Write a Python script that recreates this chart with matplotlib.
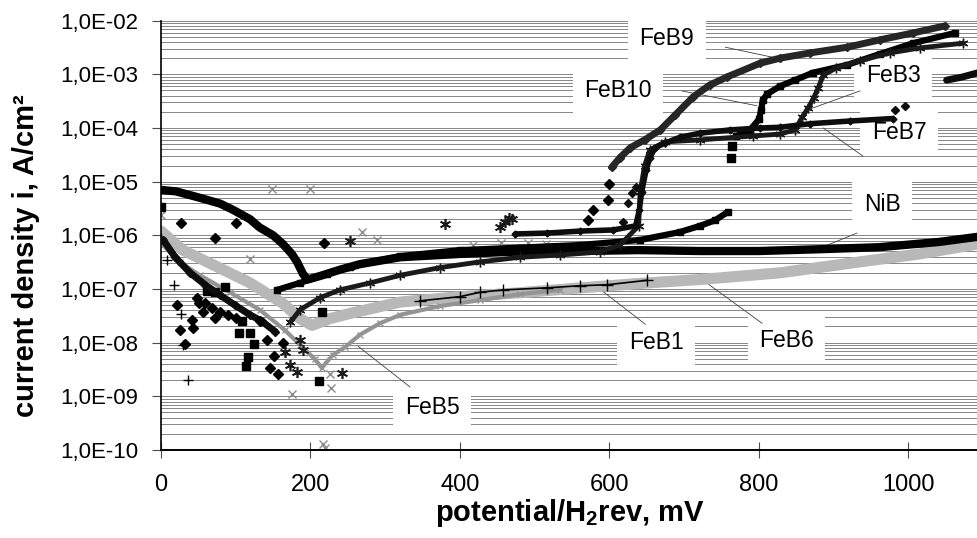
import math

import matplotlib
matplotlib.use("Agg")
import matplotlib.pyplot as plt
from matplotlib.ticker import FixedLocator, FuncFormatter, LogLocator, NullFormatter

plt.rcParams["font.family"] = ["Liberation Sans", "DejaVu Sans"]
plt.rcParams["mathtext.fontset"] = "custom"
plt.rcParams["mathtext.rm"] = "Liberation Sans"
plt.rcParams["mathtext.bf"] = "Liberation Sans:bold"

# potential in mV vs H2rev, current density in A/cm2
nib_e = [0, 20, 52, 79, 96, 119, 132, 150, 163, 175, 182, 190, 196, 213, 240, 266, 320,
         400, 480, 560, 640, 720, 800, 880, 960, 1040, 1093]
nib_i = [7.0e-6, 6.6e-6, 5.0e-6, 3.9e-6, 3.0e-6, 2.0e-6, 1.4e-6, 1.0e-6, 6.9e-7, 4.5e-7,
         3.2e-7, 1.9e-7, 1.5e-7, 1.75e-7, 2.3e-7, 2.9e-7, 3.9e-7, 4.5e-7, 5.0e-7, 5.1e-7,
         5.3e-7, 5.1e-7, 5.1e-7, 5.5e-7, 6.0e-7, 7.5e-7, 9.4e-7]

feb10_e = [155, 186, 222, 253, 320, 400, 480, 561, 641, 694, 721, 741, 758]
feb10_i = [9.6e-8, 1.3e-7, 1.9e-7, 2.6e-7, 4.1e-7, 5.3e-7, 5.9e-7, 6.6e-7, 8.2e-7, 1.15e-6,
           1.5e-6, 1.9e-6, 2.7e-6]
feb10_hi_e = [769, 788, 800, 803, 805, 811, 828, 848, 872, 918, 962, 1006, 1062]
feb10_hi_i = [7.0e-5, 9.2e-5, 1.45e-4, 2.2e-4, 3.3e-4, 4.3e-4, 6.0e-4, 7.8e-4, 1.07e-3,
              1.5e-3, 2.4e-3, 3.8e-3, 5.9e-3]
feb10_pts_e = [0, 62, 72, 86, 104, 108, 116, 114, 119, 124, 211, 215, 763, 764]
feb10_pts_i = [3.4e-6, 9.0e-8, 8.7e-8, 1.1e-7, 1.5e-8, 2.5e-8, 5.5e-9, 3.6e-9, 1.5e-8,
               9.6e-9, 1.9e-9, 3.8e-8, 2.8e-5, 4.7e-5]

feb9_e = [603, 614, 628, 647, 668, 688, 712, 734, 757, 801, 828, 868, 918, 962, 1006, 1049]
feb9_i = [1.85e-5, 2.8e-5, 4.3e-5, 6.0e-5, 9.2e-5, 1.75e-4, 3.8e-4, 6.3e-4, 8.9e-4, 1.6e-3,
          2.0e-3, 2.5e-3, 3.2e-3, 4.4e-3, 5.9e-3, 8.0e-3]
feb9_pts_e = [27, 72, 100, 218, 21, 25, 32, 41, 43, 51, 48, 59, 68, 79, 90, 100, 56, 72,
              142, 163, 151, 146, 157, 132, 571, 578, 598, 600]
feb9_pts_i = [1.7e-6, 9.0e-7, 1.7e-6, 7.2e-7, 5.0e-8, 1.7e-8, 9.6e-9, 2.6e-8, 1.9e-8,
              5.5e-8, 6.9e-8, 5.5e-8, 4.5e-8, 3.8e-8, 3.3e-8, 2.9e-8, 3.8e-8, 2.9e-8,
              1.1e-8, 1.0e-8, 5.6e-9, 3.3e-9, 2.6e-9, 2.5e-8, 1.9e-6, 3.0e-6, 4.6e-6, 9.0e-6]

feb7_lo_e = [3, 19, 39, 59, 79, 99, 119, 135, 153]
feb7_lo_i = [8.2e-7, 3.9e-7, 2.0e-7, 1.2e-7, 7.7e-8, 5.0e-8, 3.3e-8, 2.5e-8, 1.6e-8]
feb7_e = [474, 516, 561, 605, 635, 640, 643, 649, 654, 661, 674, 694, 721, 761, 801, 828,
          868, 922, 979]
feb7_i = [1.06e-6, 1.1e-6, 1.2e-6, 1.26e-6, 1.5e-6, 3.0e-6, 6.4e-6, 1.65e-5, 2.8e-5, 4.3e-5,
          5.2e-5, 6.7e-5, 8.0e-5, 9.2e-5, 1.0e-4, 1.03e-4, 1.2e-4, 1.35e-4, 1.5e-4]
feb7_hi_e = [1051, 1072, 1093]
feb7_hi_i = [7.8e-4, 8.9e-4, 1.07e-3]
feb7_pts_e = [618, 625, 630, 635, 982, 995]
feb7_pts_i = [1.8e-6, 4.0e-6, 6.2e-6, 8.0e-6, 2.2e-4, 2.6e-4]

feb3_e = [173, 186, 213, 239, 280, 320, 373, 427, 480, 534, 587, 614, 639, 641, 647, 654,
          674, 721, 792, 828, 848, 858, 866, 873, 879, 886, 903, 935, 975, 1015, 1073]
feb3_i = [2.4e-8, 4.1e-8, 6.9e-8, 9.6e-8, 1.3e-7, 1.8e-7, 2.5e-7, 3.2e-7, 3.9e-7, 4.3e-7,
          4.9e-7, 6.6e-7, 1.5e-6, 6.4e-6, 2.0e-5, 3.9e-5, 5.5e-5, 6.0e-5, 7.1e-5, 7.7e-5,
          9.2e-5, 1.6e-4, 2.4e-4, 3.6e-4, 5.5e-4, 9.7e-4, 1.3e-3, 1.8e-3, 2.5e-3, 3.1e-3,
          3.8e-3]
feb3_pts_e = [182, 242, 253, 190, 186, 166, 173, 460, 466, 454, 380, 470]
feb3_pts_i = [2.8e-9, 2.7e-9, 7.9e-7, 7.3e-9, 1.1e-8, 6.6e-9, 3.8e-9, 1.8e-6, 2.1e-6,
              1.4e-6, 1.6e-6, 2.0e-6]

feb1_lo_e = [0, 8, 17, 27, 29, 36]
feb1_lo_i = [9.0e-7, 3.5e-7, 1.2e-7, 3.4e-8, 9.1e-9, 2.0e-9]
feb1_e = [346, 400, 427, 458, 516, 561, 597, 650]
feb1_i = [6.0e-8, 7.2e-8, 8.7e-8, 9.6e-8, 1.05e-7, 1.15e-7, 1.2e-7, 1.45e-7]

feb6_e = [0, 29, 75, 119, 163, 186, 202, 226, 253, 320, 400, 480, 561, 641, 721, 828, 935,
          1015, 1093]
feb6_i = [1.2e-6, 5.3e-7, 2.6e-7, 1.3e-7, 5.4e-8, 2.8e-8, 2.1e-8, 2.8e-8, 3.5e-8, 5.7e-8,
          7.2e-8, 8.5e-8, 1.05e-7, 1.27e-7, 1.5e-7, 2.0e-7, 3.2e-7, 4.5e-7, 6.9e-7]

feb5_e = [0, 25, 52, 92, 132, 166, 186, 206, 215, 230, 246, 266, 293, 320, 373, 427, 480, 534]
feb5_i = [7.2e-7, 3.2e-7, 1.8e-7, 8.7e-8, 4.1e-8, 1.7e-8, 9.1e-9, 4.9e-9, 3.4e-9, 5.9e-9,
          8.2e-9, 1.4e-8, 2.3e-8, 3.3e-8, 4.8e-8, 6.2e-8, 8.0e-8, 9.6e-8]
feb5_pts_e = [148, 199, 119, 269, 289, 226, 227, 175, 217, 219, 417, 455, 491, 515, 0]
feb5_pts_i = [7.3e-6, 7.3e-6, 3.6e-7, 1.15e-6, 8.1e-7, 2.6e-9, 1.4e-9, 1.1e-9, 1.3e-10,
              1.1e-10, 6.6e-7, 7.2e-7, 7.2e-7, 6.9e-7, 2.4e-6]

# label text, where the text sits, and the leader line (start -> curve)
labels = ["FeB9", "FeB10", "FeB3", "FeB7", "NiB", "FeB1", "FeB6", "FeB5"]
label_pos = [(640, 4.6e-3), (566, 4.9e-4), (943, 9.7e-4), (951, 8.1e-5), (940, 3.7e-6),
             (626, 9.9e-9), (800, 1.12e-8), (326, 6.3e-10)]
leaders = [((755, 3.2e-3), (824, 2.0e-3)), ((697, 4.9e-4), (797, 2.6e-4)),
           ((935, 4.9e-4), (866, 2.2e-4)), ((886, 1.0e-4), (939, 3.0e-5)),
           ((931, 1.1e-6), (878, 5.5e-7)), ((583, 1.1e-7), (648, 2.2e-8)),
           ((730, 1.3e-7), (804, 2.3e-8)), ((264, 8.5e-9), (333, 1.5e-9))]

fig = plt.figure(figsize=(9.78, 5.38), dpi=100)
ax = fig.add_axes([0.1646, 0.1636, 0.8354, 0.798])
ax.set_yscale("log")
ax.set_xlim(0, 1093)
ax.set_ylim(1e-10, 1e-2)

# bands: thick lines through the read points; points: markers only
band = dict(solid_joinstyle="round", solid_capstyle="round")
ax.plot(feb6_e, feb6_i, color="0.72", lw=8, **band)
ax.plot(feb5_e, feb5_i, color="0.58", lw=3, marker="x", ms=5, mew=1, **band)
ax.plot(feb5_pts_e, feb5_pts_i, ls="none", color="0.55", marker="x", ms=6, mew=1)
ax.plot(feb1_lo_e, feb1_lo_i, ls="none", color="black", marker="+", ms=7, mew=1)
ax.plot(feb1_e, feb1_i, color="black", lw=1.2, marker="+", ms=8, mew=1)
ax.plot(nib_e, nib_i, color="black", lw=6, **band)
ax.plot(feb10_e, feb10_i, color="black", lw=4.5, marker="s", ms=5, **band)
ax.plot(feb10_hi_e, feb10_hi_i, color="black", lw=4.5, marker="s", ms=5, **band)
ax.plot(feb10_pts_e, feb10_pts_i, ls="none", color="black", marker="s", ms=6)
ax.plot(feb3_e, feb3_i, color="0.1", lw=3.5, marker=(6, 2, 0), ms=7, mew=1, **band)
ax.plot(feb3_pts_e, feb3_pts_i, ls="none", color="0.1", marker=(6, 2, 0), ms=8, mew=1.2)
ax.plot(feb7_lo_e, feb7_lo_i, color="0.05", lw=5, marker="D", ms=4, **band)
ax.plot(feb7_e, feb7_i, color="0.05", lw=4, marker="D", ms=3.5, **band)
ax.plot(feb7_hi_e, feb7_hi_i, color="0.05", lw=5, **band)
ax.plot(feb7_pts_e, feb7_pts_i, ls="none", color="0.05", marker="D", ms=4.5)
ax.plot(feb9_e, feb9_i, color="0.15", lw=5, marker="D", ms=4, **band)
ax.plot(feb9_pts_e, feb9_pts_i, ls="none", color="black", marker="D", ms=5)

for name, (x, y), (p0, p1) in zip(labels, label_pos, leaders):
    ax.plot([p0[0], p1[0]], [p0[1], p1[1]], color="0.25", lw=0.6, zorder=1.7)
    ax.text(x, y, name, fontsize=16.5, ha="left", va="center", zorder=1.6,
            bbox=dict(facecolor="white", edgecolor="none", boxstyle="square,pad=0.5"))

# Excel-style horizontal major + minor gridlines
ax.yaxis.set_major_locator(LogLocator(base=10, numticks=20))
ax.yaxis.set_minor_locator(LogLocator(base=10, subs=range(2, 10), numticks=20))
ax.yaxis.set_minor_formatter(NullFormatter())
ax.yaxis.set_major_formatter(FuncFormatter(lambda v, p: "1,0E-%02d" % round(-math.log10(v))))
ax.grid(True, axis="y", which="both", color="0.45", lw=0.6)
ax.set_axisbelow(True)

ax.xaxis.set_major_locator(FixedLocator([0, 200, 400, 600, 800, 1000]))
ax.tick_params(axis="x", direction="inout", length=11, width=0.8, color="0.3",
               labelsize=17, pad=12)
ax.tick_params(axis="y", which="major", direction="out", length=6.5, width=0.8,
               color="0.3", labelsize=16, pad=10)
ax.tick_params(axis="y", which="minor", length=0)

for side in ("top", "right"):
    ax.spines[side].set_visible(False)
ax.spines["left"].set_linewidth(1.2)
ax.spines["bottom"].set_linewidth(1.4)

ax.set_xlabel(r"potential/H$_\mathbf{2}$rev, mV", fontsize=21, fontweight="bold")
ax.set_ylabel("current density i, A/cm²", fontsize=21, fontweight="bold")
ax.xaxis.set_label_coords(0.5, -0.11)
ax.yaxis.set_label_coords(-0.148, 0.452)

fig.savefig("out.png", dpi=100)
